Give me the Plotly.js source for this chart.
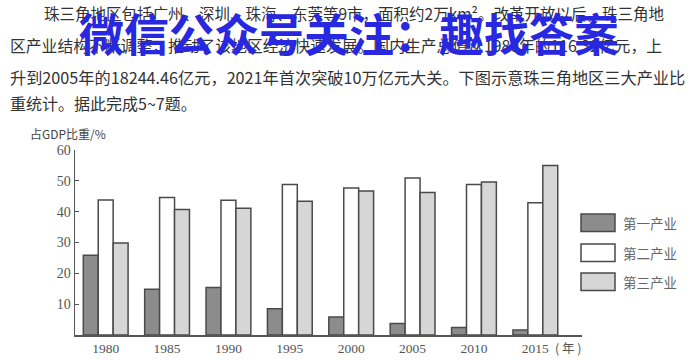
<!DOCTYPE html>
<html>
<head>
<meta charset="utf-8">
<script src="https://cdn.plot.ly/plotly-3.0.1.min.js"></script>
<style>html,body{margin:0;padding:0;background:#fff;}#chart{width:700px;height:360px;}</style>
</head>
<body>
<div id="chart"></div>
<script>
// ---- data ----
const years = ['1980','1985','1990','1995','2000','2005','2010','2015'];
const primary   = [25.9, 14.8, 15.4, 8.5, 5.8, 3.7, 2.4, 1.6];
const secondary = [43.8, 44.6, 43.7, 48.8, 47.7, 50.9, 48.8, 42.9];
const tertiary  = [29.8, 40.7, 41.1, 43.4, 46.7, 46.2, 49.6, 55.0];
const seriesNames = ['第一产业','第二产业','第三产业'];
const yTicks = [10, 20, 30, 40, 50, 60];
const paragraph = [
  '珠三角地区包括广州、深圳、珠海、东莞等9市，面积约2万km²。改革开放以后，珠三角地',
  '区产业结构不断调整，推动了该地区经济快速发展。国内生产总值从1980年的116.32亿元，上',
  '升到2005年的18244.46亿元，2021年首次突破10万亿元大关。下图示意珠三角地区三大产业比',
  '重统计。据此完成5~7题。'
];
const watermark = '微信公众号关注：趣找答案';

// ---- geometry helpers (pixel -> paper) ----
const L = 75, R = 582, T = 150, B = 335;
const px = x => (x - L) / (R - L);
const py = y => (B - y) / (B - T);

const fills = ['#8c8c8c', '#ffffff', '#d6d6d6'];
const edge = '#4a4a4a';
const vals = [primary, secondary, tertiary];

const traces = vals.map((v, i) => ({
  type: 'bar', x: years, y: v, name: seriesNames[i],
  marker: {color: fills[i], line: {color: edge, width: 1.5}},
  hoverinfo: 'none', showlegend: false
}));

const annotations = [];
const shapes = [];
// paragraph lines
const lineX = [42, 8, 8, 8];
const lineY = [13, 45, 77, 103];
const lineSize = [15.5, 15.8, 16.2, 16];
paragraph.forEach((t, i) => annotations.push({
  text: t, xref: 'paper', yref: 'paper', x: px(lineX[i]), y: py(lineY[i]),
  xanchor: 'left', yanchor: 'middle', showarrow: false,
  font: {family: 'Noto Sans CJK SC', size: lineSize[i], color: '#333'}
}));
// y axis title
annotations.push({
  text: '占GDP比重/%', xref: 'paper', yref: 'paper', x: px(28), y: py(133),
  xanchor: 'left', yanchor: 'middle', showarrow: false,
  font: {family: 'Noto Sans CJK SC', size: 12, color: '#444'}
});
// (年)
annotations.push({
  text: '( 年 )', xref: 'paper', yref: 'paper', x: px(553), y: py(347),
  xanchor: 'left', yanchor: 'middle', showarrow: false,
  font: {family: 'Noto Sans CJK SC', size: 12.5, color: '#555'}
});
// legend
const legTop = [214, 244, 273];
seriesNames.forEach((n, i) => {
  shapes.push({type: 'rect', xref: 'paper', yref: 'paper',
    x0: px(581), x1: px(615), y0: py(legTop[i]), y1: py(legTop[i] + 17.5),
    fillcolor: fills[i], line: {color: edge, width: 1.5}});
  annotations.push({text: n, xref: 'paper', yref: 'paper', x: px(621), y: py(legTop[i] + 9),
    xanchor: 'left', yanchor: 'middle', showarrow: false,
    font: {family: 'Noto Sans CJK SC', size: 13.5, color: '#666'}});
});
// watermark
annotations.push({
  text: '<b>' + watermark + '</b>', xref: 'paper', yref: 'paper', x: px(349), y: py(32),
  xanchor: 'center', yanchor: 'middle', showarrow: false,
  font: {family: 'Noto Sans CJK SC', size: 45, color: 'rgb(40,40,225)'}
});

const layout = {
  width: 700, height: 360,
  margin: {l: L, r: 700 - R, t: T, b: 360 - B, pad: 0},
  paper_bgcolor: '#fff', plot_bgcolor: '#fff',
  barmode: 'group', bargap: 0.27, bargroupgap: 0,
  xaxis: {type: 'category', range: [-0.5, 7.76], showline: true, linecolor: '#555', linewidth: 1.5,
    ticks: '', showgrid: false, zeroline: false,
    tickfont: {family: 'Liberation Serif', size: 13.5, color: '#555'}},
  yaxis: {range: [0, 60], tickvals: yTicks, ticktext: yTicks.map(String),
    showline: true, linecolor: '#555', linewidth: 1.5,
    ticks: 'inside', ticklen: 4, tickcolor: '#555', tickwidth: 1.2,
    showgrid: false, zeroline: false,
    tickfont: {family: 'Liberation Serif', size: 14, color: '#555'}},
  annotations, shapes, showlegend: false
};
Plotly.newPlot('chart', traces, layout, {staticPlot: true, displayModeBar: false});
</script>
</body>
</html>
